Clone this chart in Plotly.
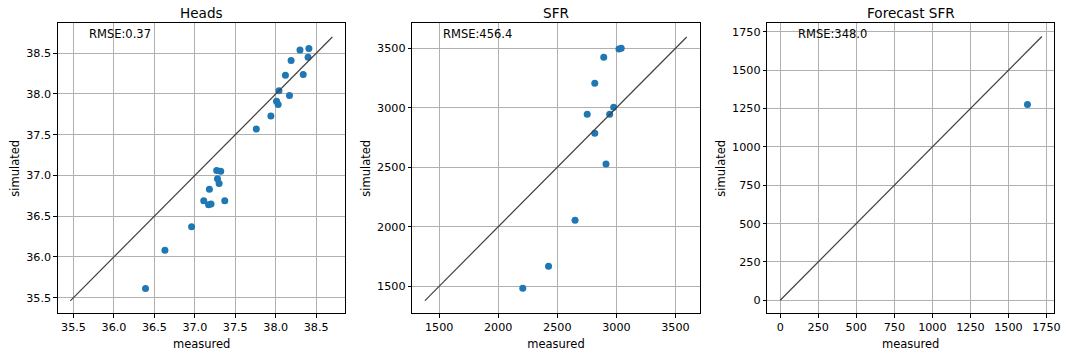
import plotly.graph_objects as go

# ---- data ----
heads_measured = [36.39, 36.63, 36.96, 37.11, 37.17, 37.20, 37.18, 37.37, 37.27, 37.32, 37.28, 37.30,
                  37.76, 37.94, 38.01, 38.03, 38.04, 38.17, 38.12, 38.19, 38.34, 38.30, 38.40, 38.41]
heads_simulated = [35.61, 36.08, 36.37, 36.69, 36.64, 36.65, 36.83, 36.69, 37.06, 37.05, 36.96, 36.90,
                   37.57, 37.73, 37.91, 37.87, 38.04, 37.98, 38.23, 38.41, 38.24, 38.54, 38.45, 38.56]
sfr_measured = [2208, 2426, 2650, 2753, 2817, 2817, 2893, 2912, 2943, 2977, 3022, 3041]
sfr_simulated = [1483, 1668, 2055, 2945, 2786, 3206, 3424, 2528, 2945, 3004, 3494, 3500]
fc_measured = [1625]
fc_simulated = [1277]

titles = ["Heads", "SFR", "Forecast SFR"]
rmse_labels = ["RMSE:0.37", "RMSE:456.4", "RMSE:348.0"]
one_to_one = [[35.46, 38.70], [1380, 3595], [0, 1720]]
x_ranges = [[35.307, 38.862], [1273, 3705], [-85, 1800]]
y_ranges = [[35.307, 38.868], [1273, 3710], [-85, 1806]]
x_ticks = [[35.5, 36.0, 36.5, 37.0, 37.5, 38.0, 38.5],
           [1500, 2000, 2500, 3000, 3500],
           [0, 250, 500, 750, 1000, 1250, 1500, 1750]]
y_ticks = x_ticks
tick_fmt = [".1f", "d", "d"]

series = [(heads_measured, heads_simulated), (sfr_measured, sfr_simulated), (fc_measured, fc_simulated)]

W, H = 1075, 357
x_domains = [[58.3 / W, 347.7 / W], [415.0 / W, 704.3 / W], [772.3 / W, 1061.0 / W]]
y_domain = [1 - 313.3 / H, 1 - 23.3 / H]

fig = go.Figure()
tick_font = dict(family="DejaVu Sans", size=11.2, color="black")
label_font = dict(family="DejaVu Sans", size=11.5, color="black")

for i, (mx, sy) in enumerate(series):
    xa = "x" if i == 0 else f"x{i+1}"
    ya = "y" if i == 0 else f"y{i+1}"
    fig.add_trace(go.Scatter(x=mx, y=sy, mode="markers", xaxis=xa, yaxis=ya,
                             marker=dict(color="#1f77b4", size=7, line=dict(width=0)),
                             showlegend=False))
    fig.add_trace(go.Scatter(x=one_to_one[i], y=one_to_one[i], mode="lines", xaxis=xa, yaxis=ya,
                             line=dict(color="#404040", width=1.2), showlegend=False))
    axis_common = dict(showline=True, linecolor="black", linewidth=1, mirror=True,
                       ticks="outside", ticklen=3.5, tickcolor="black", tickwidth=1,
                       showgrid=True, gridcolor="#b0b0b0", gridwidth=0.8, zeroline=False,
                       tickfont=tick_font, tickformat=tick_fmt[i])
    xkey = "xaxis" if i == 0 else f"xaxis{i+1}"
    ykey = "yaxis" if i == 0 else f"yaxis{i+1}"
    fig.update_layout(**{
        xkey: dict(domain=x_domains[i], range=x_ranges[i], anchor=ya, tickvals=x_ticks[i],
                   title=dict(text="measured", font=label_font, standoff=6), **axis_common),
        ykey: dict(domain=y_domain, range=y_ranges[i], anchor=xa, tickvals=y_ticks[i],
                   title=dict(text="simulated", font=label_font, standoff=4), **axis_common),
    })
    fig.add_annotation(text=rmse_labels[i], xref=f"{xa} domain", yref=f"{ya} domain",
                       x=0.1, y=0.962, xanchor="left", yanchor="middle", showarrow=False,
                       font=label_font)
    fig.add_annotation(text=titles[i], xref="paper", yref="paper",
                       x=(x_domains[i][0] + x_domains[i][1]) / 2, y=1 - 13.5 / H,
                       xanchor="center", yanchor="middle", showarrow=False,
                       font=dict(family="DejaVu Sans", size=13.6, color="black"))

fig.update_layout(width=W, height=H, autosize=False,
                  margin=dict(l=0, r=0, t=0, b=0),
                  paper_bgcolor="white", plot_bgcolor="white", font=tick_font)

fig.write_html("out.html")
